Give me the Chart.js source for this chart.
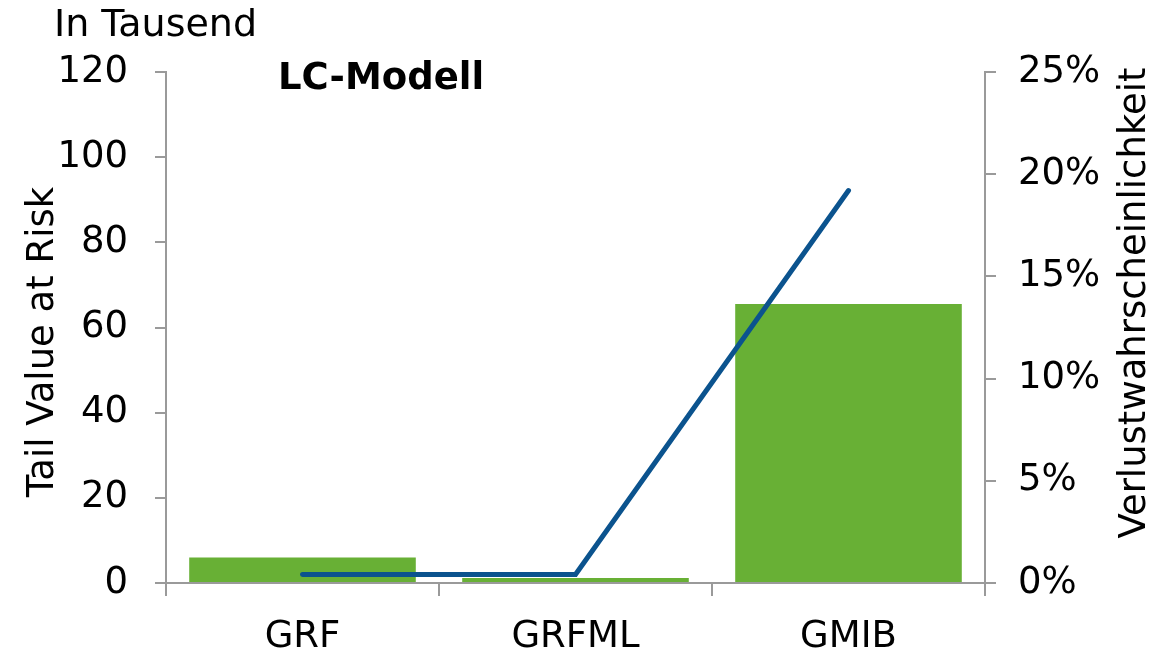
<!DOCTYPE html>
<html>
<head>
<meta charset="utf-8">
<script src="https://cdn.jsdelivr.net/npm/chart.js@4/dist/chart.umd.min.js"></script>
<style>
  html, body { margin: 0; padding: 0; background: #ffffff; }
  #wrap { width: 1170px; height: 650px; position: relative; }
</style>
</head>
<body>
<div id="wrap"><canvas id="chart" width="1170" height="650"></canvas></div>
<script>
// Kategorien und Werte
const categories = ['GRF', 'GRFML', 'GMIB'];
const tailValueAtRisk = [6.0, 1.2, 65.5];        // in Tausend
const lossProbability = [0.41, 0.42, 19.2];       // in Prozent
const leftTicks = [0, 20, 40, 60, 80, 100, 120];
const rightTicks = [0, 5, 10, 15, 20, 25];

const FONT = 'DejaVu Sans';
const AXIS_GRAY = '#9a9a9a';
const FONT_SIZE = 37;

// Freie Beschriftungen: Einheit, Modellname und die beiden Achsentitel
// (beide Achsentitel laufen von unten nach oben)
const annotations = {
  id: 'annotations',
  afterDraw(chart) {
    const ctx = chart.ctx;
    ctx.save();
    ctx.fillStyle = '#000000';
    ctx.textBaseline = 'middle';
    ctx.textAlign = 'left';
    ctx.font = '38px "' + FONT + '"';
    ctx.fillText('In Tausend', 54, 26);
    ctx.font = 'bold ' + FONT_SIZE + 'px "' + FONT + '"';
    ctx.fillText('LC-Modell', 278, 79);

    ctx.font = FONT_SIZE + 'px "' + FONT + '"';
    ctx.textAlign = 'center';
    ctx.translate(43, 342);
    ctx.rotate(-Math.PI / 2);
    ctx.fillText('Tail Value at Risk', 0, 0);
    ctx.setTransform(1, 0, 0, 1, 0, 0);
    ctx.translate(1135, 303);
    ctx.rotate(-Math.PI / 2);
    ctx.fillText('Verlustwahrscheinlichkeit', 0, 0);
    ctx.restore();
  }
};

new Chart(document.getElementById('chart'), {
  data: {
    labels: categories,
    datasets: [
      {
        type: 'line',
        label: 'Verlustwahrscheinlichkeit',
        data: lossProbability,
        yAxisID: 'y1',
        borderColor: '#0b538e',
        borderWidth: 5,
        borderCapStyle: 'round',
        borderJoinStyle: 'miter',
        pointRadius: 0,
        tension: 0,
        fill: false,
        order: 0
      },
      {
        type: 'bar',
        label: 'Tail Value at Risk',
        data: tailValueAtRisk,
        yAxisID: 'y',
        backgroundColor: '#68b035',
        categoryPercentage: 1.0,
        barPercentage: 0.83,
        order: 1
      }
    ]
  },
  options: {
    responsive: false,
    animation: false,
    layout: { padding: { top: 72, left: 0, right: 0, bottom: 0 } },
    plugins: {
      legend: { display: false },
      tooltip: { enabled: false }
    },
    scales: {
      x: {
        offset: true,
        grid: {
          offset: true,
          drawOnChartArea: false,
          drawTicks: true,
          tickLength: 13,
          color: AXIS_GRAY,
          lineWidth: 2
        },
        border: { color: AXIS_GRAY, width: 2 },
        ticks: {
          color: '#000000',
          font: { family: FONT, size: FONT_SIZE },
          padding: 19,
          maxRotation: 0
        },
        afterFit(scale) { scale.height = 67; }
      },
      y: {
        position: 'left',
        min: 0,
        max: 120,
        afterBuildTicks(scale) { scale.ticks = leftTicks.map(v => ({ value: v })); },
        grid: {
          drawOnChartArea: false,
          drawTicks: true,
          tickLength: 11,
          color: AXIS_GRAY,
          lineWidth: 2
        },
        border: { color: AXIS_GRAY, width: 2 },
        ticks: {
          color: '#000000',
          font: { family: FONT, size: FONT_SIZE },
          padding: 27
        },
        afterFit(scale) { scale.width = 166; }
      },
      y1: {
        position: 'right',
        min: 0,
        max: 25,
        afterBuildTicks(scale) { scale.ticks = rightTicks.map(v => ({ value: v })); },
        grid: {
          drawOnChartArea: false,
          drawTicks: true,
          tickLength: 11,
          color: AXIS_GRAY,
          lineWidth: 2
        },
        border: { color: AXIS_GRAY, width: 2 },
        ticks: {
          color: '#000000',
          font: { family: FONT, size: FONT_SIZE },
          padding: 22,
          callback: v => v + '%'
        },
        afterFit(scale) { scale.width = 185; }
      }
    }
  },
  plugins: [annotations]
});
</script>
</body>
</html>
